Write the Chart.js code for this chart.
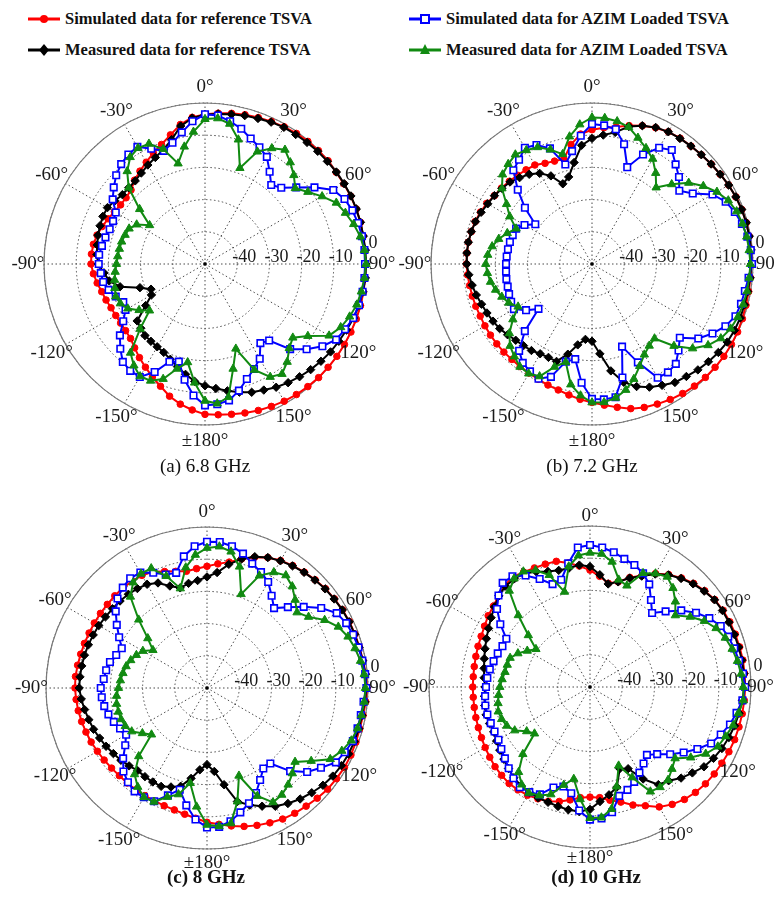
<!DOCTYPE html>
<html>
<head>
<meta charset="utf-8">
<script src="https://cdn.jsdelivr.net/npm/chart.js@4.4.1/dist/chart.umd.min.js"></script>
<style>
  body { margin: 0; width: 775px; height: 898px; background: #fff; overflow: hidden; position: relative;
         font-family: "Liberation Serif", "Times New Roman", serif; color: #111; }
  canvas { position: absolute; }
  .leg { position: absolute; height: 20px; line-height: 20px; font-weight: bold; font-size: 16.5px; white-space: nowrap; }
  .leg svg { position: absolute; left: 0; top: 0; }
  .leg span { position: absolute; left: 37px; top: 0; }
  .cap { position: absolute; width: 240px; margin-left: -120px; text-align: center; font-size: 19px; line-height: 22px; }
</style>
</head>
<body>

<div class="leg" style="left:28px;top:9px">
  <svg width="32" height="20"><line x1="0" y1="10" x2="32" y2="10" stroke="#ff0000" stroke-width="3"/><circle cx="16" cy="10" r="4" fill="#ff0000"/></svg>
  <span>Simulated data for reference TSVA</span>
</div>
<div class="leg" style="left:28px;top:40px">
  <svg width="32" height="20"><line x1="0" y1="10" x2="32" y2="10" stroke="#000" stroke-width="3"/><polygon points="16,4 21,10 16,16 11,10" fill="#000"/></svg>
  <span>Measured data for reference TSVA</span>
</div>
<div class="leg" style="left:409px;top:9px">
  <svg width="32" height="20"><line x1="0" y1="10" x2="32" y2="10" stroke="#0000ff" stroke-width="3"/><rect x="12" y="6" width="8" height="8" fill="#fff" stroke="#0000ff" stroke-width="2"/></svg>
  <span>Simulated data for AZIM Loaded TSVA</span>
</div>
<div class="leg" style="left:409px;top:40px">
  <svg width="32" height="20"><line x1="0" y1="10" x2="32" y2="10" stroke="#118a11" stroke-width="3"/><polygon points="16,4 21,14 11,14" fill="#118a11"/></svg>
  <span>Measured data for AZIM Loaded TSVA</span>
</div>

<canvas id="pa" width="400" height="400" style="left:5px;top:64px"></canvas>
<canvas id="pb" width="400" height="400" style="left:392px;top:64px"></canvas>
<canvas id="pc" width="400" height="400" style="left:7px;top:488px"></canvas>
<canvas id="pd" width="400" height="400" style="left:390px;top:487px"></canvas>

<div class="cap" style="left:205px;top:455px">(a) 6.8 GHz</div>
<div class="cap" style="left:592px;top:455px">(b) 7.2 GHz</div>
<div class="cap" style="left:206px;top:866px;font-weight:bold">(c) 8 GHz</div>
<div class="cap" style="left:596px;top:866px;font-weight:bold">(d) 10 GHz</div>

<script>
// angle of each sample, clockwise from the top
const angles = [0,5,10,15,20,25,30,35,40,45,50,55,60,65,70,75,80,85,90,95,100,105,110,115,120,125,130,135,140,145,150,155,160,165,170,175,180,
  -175,-170,-165,-160,-155,-150,-145,-140,-135,-130,-125,-120,-115,-110,-105,-100,-95,-90,-85,-80,-75,-70,-65,-60,-55,-50,-45,-40,-35,-30,-25,-20,-15,-10,-5];

const angleTickValues = [0, 30, 60, 90, 120, 150, 180, -150, -120, -90, -60, -30];
const angleTickText = ['0°', '30°', '60°', '90°', '120°', '150°', '±180°', '-150°', '-120°', '-90°', '-60°', '-30°'];
const ringValues = [-40, -30, -20, -10, 0];
const ringText = ['-40', '-30', '-20', '-10', '0'];

// (a) 6.8 GHz
const simRef68 = [-3.5,-3,-2.5,-2,-1.6,-1.2,-0.8,-0.5,-0.3,-0.2,-0.1,-0.3,-0.2,-0.1,0,0,-0.1,-0.2,-0.2,-0.1,0,0,0,0,0,0,-0.1,-0.1,-0.3,-0.5,-0.8,-1.2,-1.6,-2.1,-2.6,-3,-3.3,
  -4.5,-5.8,-7.5,-9.6,-11.3,-13,-14.5,-16,-17.3,-17.8,-18,-18,-17.8,-17.3,-16.8,-16,-15.2,-14.6,-14.6,-14.8,-15.3,-16,-16.8,-17.5,-18,-18,-17.5,-16,-14.8,-13.5,-12,-10.5,-8.5,-6,-4.3];
const meaRef68 = [-3.6,-3.2,-2.8,-2.3,-1.9,-1.4,-1,-0.9,-0.7,-0.5,-0.4,-0.2,-0.1,0,0,0,-0.1,0,0,0,-0.2,-0.5,-0.9,-1.5,-2,-2.4,-3,-3.6,-4.3,-5,-5.8,-6.8,-7.6,-8.8,-10,-11.2,-12.2,
  -13.4,-15.2,-17,-18.5,-19.7,-20.3,-20.7,-21,-21.8,-22.5,-27.5,-30.8,-31.5,-28.5,-22.7,-19.8,-18.5,-16.8,-16.3,-16,-15.6,-15.3,-15,-15,-15.8,-16.5,-16.5,-16.3,-15.5,-14.5,-13.5,-12.2,-10,-6.5,-4.5];
const simAzim68 = [-3.5,-3.7,-5,-6.5,-8.5,-10,-11.6,-15,-18,-16.5,-13,-8.5,-4,-2.2,-1.3,-0.8,-0.5,-0.3,-0.3,-0.3,-0.3,-0.5,-1,-2,-3,-5.5,-8.8,-12.6,-19,-20,-16,-14,-12,-9.3,-7,-6.3,-6.1,
  -9,-13.5,-18.6,-17.7,-13,-9.5,-9.5,-10.3,-12.8,-15.5,-19,-21.5,-22,-20.5,-19,-17.9,-17.5,-17,-17,-17.5,-18,-18.5,-18.5,-18,-15,-13,-11,-9.5,-8.5,-8,-10.5,-12.6,-11,-8.5,-5.5];
const meaAzim68 = [-5,-4.6,-5.8,-10,-18.3,-11.5,-8.5,-6.7,-8.8,-11,-13.4,-11,-8,-5,-3.6,-2.2,-1,-0.3,0,-0.3,-0.7,-1.2,-2.2,-3.5,-5.5,-11,-14.4,-13,-10.3,-8.3,-9.5,-13.7,-22,-16.3,-8,-6.5,-7.5,
  -13,-19,-16.3,-12,-10,-9.7,-11.5,-14,-21.5,-27.5,-25,-22.3,-21,-20.5,-21,-21.5,-22,-22.5,-22.8,-23,-23.2,-23.6,-24,-25.5,-29,-23.5,-16.5,-12.4,-9.5,-8.4,-8.8,-12,-17.7,-13,-8.8];

// (b) 7.2 GHz
const simRef72 = [-8.3,-7.5,-6.8,-5.5,-4.3,-3.3,-2.6,-2.3,-2.2,-2,-1.7,-1.4,-1,-0.7,-0.5,-0.4,-0.4,-0.4,-0.5,-0.6,-0.6,-0.5,-0.3,-0.1,0,0,-0.1,-0.2,-0.5,-0.9,-1.4,-2,-2.6,-3.5,-4.8,-6,-7,
  -7.8,-8.7,-9.5,-10,-10.5,-10.9,-11.1,-11.3,-11.3,-11.4,-11.5,-11.6,-11.7,-11.6,-11.5,-11.4,-11.2,-11,-11,-11,-11.2,-11.4,-11.8,-12.3,-13,-13.3,-13.7,-14,-14.3,-14.5,-15.5,-16,-16.2,-12.3,-9.5];
const meaRef72 = [-11,-9.8,-8.5,-5.8,-4.3,-3.2,-2.6,-2.4,-2.2,-2,-1.7,-1.4,-1,-0.7,-0.5,-0.4,-0.4,-0.4,-0.5,-0.7,-0.9,-1,-1,-1.2,-1.5,-2.1,-2.8,-3.5,-4.4,-5.1,-6.5,-7.8,-9.5,-12,-16.3,-22,-26,
  -26.5,-24.5,-21,-17.8,-18,-17.8,-17.2,-16.9,-16.5,-15.8,-15,-14.5,-14,-13.5,-12.8,-12.2,-11.6,-11.1,-11,-11,-11.2,-11.5,-12,-12.6,-13,-13.5,-14,-15,-16,-17.5,-19.8,-23.5,-22,-18,-13];
const simAzim72 = [-6.5,-6.8,-7.5,-11.5,-18,-12.5,-8.3,-6.8,-9.6,-11.8,-14.6,-11.8,-6.8,-4.2,-2.8,-1.8,-1,-0.5,-0.3,-1.2,-1.8,-2.1,-2.6,-4.3,-6.8,-9.7,-14.4,-12,-9.5,-8.9,-9.2,-16.3,-22.7,-13.5,-8,-7.8,-8.1,
  -13,-20,-18.6,-12.7,-10.7,-11.5,-12.5,-14.8,-20.5,-28.3,-25,-22,-22.3,-22.6,-22.9,-23,-23.2,-23.3,-23.4,-23.5,-23.6,-23.8,-24,-25.8,-28.5,-22.8,-17.4,-12,-10.5,-8.3,-9.2,-11.8,-18,-14.4,-10];
const meaAzim72 = [-4.5,-4.5,-5,-6,-8.3,-10.3,-12.3,-15.5,-19,-15,-10.8,-7.8,-5.2,-3.3,-2.2,-1.6,-1.2,-1,-0.8,-1,-1.1,-1.4,-1.8,-2.5,-3.8,-6,-9.2,-14,-19.8,-19,-17.5,-15,-12,-9.5,-7.8,-6.9,-7,
  -9,-12,-18.5,-16,-11.5,-10.7,-11,-12.5,-14,-16.5,-20,-23.5,-21.5,-20.2,-19,-18,-17.4,-17,-17.5,-18.5,-20,-22,-24,-20.5,-17.6,-13.5,-10.7,-9.5,-8.5,-9.2,-10,-12.2,-14.7,-9.8,-6.5];

// (c) 8 GHz
const simRef8 = [-12.2,-11.3,-10.3,-8.5,-6.8,-5.3,-4.3,-3.6,-3,-2.5,-2,-1.7,-1.4,-1.2,-1.1,-1,-0.8,-0.5,-0.3,-0.5,-0.8,-0.9,-0.8,-0.7,-0.7,-0.9,-1.1,-1.6,-2.1,-2.5,-3,-3.8,-4.6,-5.5,-6.5,-7.5,-8.3,
  -9.4,-10.2,-10.8,-11.1,-11.3,-11.4,-11.4,-11.5,-11.5,-11.3,-11,-10.7,-10.3,-10,-9.7,-9.4,-9.2,-9,-9,-9.2,-9.4,-9.5,-9.6,-9.6,-9.6,-9.6,-9.5,-9.4,-9.5,-9.6,-10.2,-11.5,-12.5,-13.2,-12.8];
const meaRef8 = [-15.5,-14,-11,-8.5,-6.6,-5.3,-4.4,-3.7,-3.1,-2.6,-2.1,-1.8,-1.5,-1.3,-1.2,-1.1,-0.9,-0.6,-0.5,-0.8,-1.1,-1.2,-1.3,-1.5,-1.8,-2.3,-3,-4,-5,-6.2,-7.6,-9.5,-11.3,-13.5,-19.5,-24,-26.2,
  -24.5,-21.5,-18.4,-17.3,-16.3,-16.3,-16.4,-16.5,-15.8,-15.1,-14.5,-13.8,-13.2,-12.5,-12,-11.4,-10.8,-10.3,-10.4,-10.5,-10.6,-10.8,-11,-11.2,-11.5,-11.7,-11.8,-12,-12.3,-12.8,-14,-16.3,-17.8,-17,-16.5];
const simAzim8 = [-4.6,-4.5,-5.3,-6.8,-8.9,-10.3,-12,-15,-17.6,-14.5,-10.8,-6.7,-3.5,-2.3,-1.7,-1.3,-1,-0.7,-0.5,-1.2,-1.5,-1.6,-1.8,-2.8,-3.8,-6.8,-9.4,-13.5,-19.4,-19.5,-17,-14,-11.9,-10,-8,-6.7,-6.7,
  -9,-13,-17.3,-14.5,-11.2,-10.8,-10.8,-11.8,-13.3,-16,-19,-21,-20.2,-19.2,-18.3,-17.6,-17.2,-17,-17.8,-18.2,-18.8,-20,-20.8,-18.5,-15.8,-13,-10.7,-9.3,-8.4,-8.6,-10.5,-12.5,-13,-8.5,-5.8];
const meaAzim8 = [-6.5,-5.9,-7,-11,-19,-11.5,-8.5,-7.3,-8.8,-11.3,-13.5,-11.5,-7.8,-5,-3.4,-2.4,-1.6,-1,-0.8,-1,-1.3,-1.6,-2.3,-3.8,-5.8,-10.5,-14.3,-12.5,-10.8,-9.5,-9,-13,-21,-13.5,-7.3,-6.9,-7.5,
  -13,-20,-15.8,-14,-11,-10.8,-12.5,-15,-20,-27.5,-25.5,-23,-22,-21.6,-21.5,-21.5,-21.8,-22.5,-23,-23.5,-24,-24.8,-25.8,-27,-29.5,-26,-20,-13,-10,-9,-9,-13,-18,-12,-8.5];

// (d) 10 GHz
const simRef10 = [-13.7,-15.5,-17.3,-16.2,-13.8,-11.9,-9.3,-7.4,-5.8,-4.5,-3.5,-2.7,-2.3,-2.1,-2,-1.9,-1.8,-1.8,-1.8,-1.9,-2,-2.1,-2.2,-2.4,-2.7,-2.9,-3.2,-3.7,-4.4,-5.5,-7,-9.3,-11,-13,-14.3,-15.5,-15.8,
  -15.5,-14.4,-13.2,-12.2,-11.7,-11.2,-11,-10.9,-11.2,-11.5,-12,-12.4,-12.8,-13.1,-13.3,-13.5,-13.6,-13.6,-13.6,-13.5,-13.3,-13,-12.7,-12.2,-11.4,-10.9,-9.8,-8.8,-8.2,-8.8,-9.2,-9.4,-9.6,-10.9,-12.3];
const meaRef10 = [-12.6,-15,-17.5,-16.2,-14,-12,-9.5,-7.5,-6,-4.7,-3.7,-2.8,-2.5,-2.4,-2.3,-2.2,-2.1,-2,-2,-2.5,-3,-3.5,-4.1,-4.8,-5.7,-6.8,-8.5,-10,-12,-13,-17,-22,-23,-17.8,-16,-14.3,-12,
  -11.2,-11.3,-11.6,-11.9,-12,-12.3,-12.6,-13.2,-14.2,-15.1,-15.8,-16.5,-17,-16.8,-16.6,-16.8,-17.1,-17.4,-17,-16.6,-16,-15.3,-14.5,-13.6,-12.5,-11.3,-10,-9.1,-9,-9.2,-10.5,-11.8,-12.5,-12.5,-12];
const simAzim10 = [-5.9,-6.5,-7.5,-8.8,-9.7,-11,-13.2,-17,-20,-16.8,-13,-9.8,-7.2,-5.2,-4.3,-3.6,-3,-2.3,-1.8,-2.5,-3.8,-5,-6.8,-8.5,-11.5,-14.5,-17.5,-20.5,-22.5,-21,-19.3,-17.5,-16,-15,-10.5,-9,-8.8,
  -11.5,-16.5,-18,-16.8,-13.2,-12.3,-12,-13,-14.3,-15.5,-16.4,-17.2,-17.3,-17.2,-17,-17,-17.3,-17.7,-18,-18.4,-19,-19.5,-20,-20,-16,-12.3,-9.8,-7.8,-8,-10,-13,-16,-15.5,-11,-6.5];
const meaAzim10 = [-8.3,-8.5,-10.5,-15.5,-16.5,-11,-9.3,-8.2,-9.9,-12.5,-15.4,-12,-9,-6.8,-5.3,-4.3,-3.5,-2.9,-2.4,-2.2,-3.2,-4,-5.2,-6.2,-8.5,-11.8,-15.5,-14,-12.3,-12,-12.5,-19,-24,-18,-11.5,-9.3,-9.3,
  -15,-21,-18.5,-14.5,-12.8,-12,-13,-15.5,-20.5,-27.5,-26,-23,-21.5,-20.8,-20.5,-21,-21.5,-22,-22.6,-23.2,-23.4,-23.6,-25.3,-27.5,-29.5,-25,-18.5,-11,-8.9,-8.6,-10,-13,-19.4,-12,-9];

const RED = '#ff0000', BLACK = '#000000', BLUE = '#0000ff', GREEN = '#118a11';
const FONT = '"Liberation Serif", "Times New Roman", serif';

// outer solid circle, centre dot, angle labels and dB labels
const polarText = {
  id: 'polarText',
  beforeDatasetsDraw(chart) {
    const r = chart.scales.r, ctx = chart.ctx;
    ctx.save();
    ctx.strokeStyle = '#7a7a7a';
    ctx.lineWidth = 1.2;
    ctx.beginPath();
    ctx.arc(r.xCenter, r.yCenter, r.getDistanceFromCenterForValue(0), 0, Math.PI * 2);
    ctx.stroke();
    ctx.fillStyle = '#000';
    ctx.beginPath();
    ctx.arc(r.xCenter, r.yCenter, 1.8, 0, Math.PI * 2);
    ctx.fill();
    ctx.restore();
  },
  afterDraw(chart, args, opts) {
    const r = chart.scales.r, ctx = chart.ctx;
    ctx.save();
    ctx.fillStyle = '#1a1a1a';
    ctx.textAlign = 'center';
    ctx.textBaseline = 'middle';
    ctx.font = '19px ' + FONT;
    const dist = r.getDistanceFromCenterForValue(0) * opts.labelScale;
    angleTickValues.forEach((a, k) => {
      const p = r.getPointPosition(angles.indexOf(a), dist);
      ctx.fillText(angleTickText[k], p.x, p.y);
    });
    ctx.font = '18px ' + FONT;
    const right = angles.indexOf(90);
    ringValues.forEach((v, k) => {
      const p = r.getPointPositionForValue(right, v);
      ctx.fillText(ringText[k], p.x + 7, p.y - (v === 0 ? 21 : 7));
    });
    ctx.restore();
  }
};

function makePanel(id, simRef, meaRef, simAzim, meaAzim, labelScale) {
  new Chart(document.getElementById(id), {
    type: 'radar',
    data: {
      labels: angles,
      datasets: [
        { label: 'Simulated data for reference TSVA', data: simRef, order: 4,
          borderColor: RED, pointBackgroundColor: RED, pointBorderColor: RED,
          pointStyle: 'circle', pointRadius: 3.3 },
        { label: 'Measured data for reference TSVA', data: meaRef, order: 3,
          borderColor: BLACK, pointBackgroundColor: BLACK, pointBorderColor: BLACK,
          pointStyle: 'rectRot', pointRadius: 4.2 },
        { label: 'Simulated data for AZIM Loaded TSVA', data: simAzim, order: 2,
          borderColor: BLUE, pointBackgroundColor: '#ffffff', pointBorderColor: BLUE,
          pointStyle: 'rect', pointRadius: 4.6, pointBorderWidth: 1.6 },
        { label: 'Measured data for AZIM Loaded TSVA', data: meaAzim, order: 1,
          borderColor: GREEN, pointBackgroundColor: GREEN, pointBorderColor: GREEN,
          pointStyle: 'triangle', pointRadius: 4.8 }
      ]
    },
    options: {
      responsive: false,
      animation: false,
      devicePixelRatio: 1,
      layout: { padding: 39 },
      elements: {
        line: { borderWidth: 2, tension: 0, fill: false },
        point: { hoverRadius: 0 }
      },
      plugins: {
        legend: { display: false },
        tooltip: { enabled: false },
        polarText: { labelScale: labelScale }
      },
      scales: {
        r: {
          min: -50,
          max: 0,
          ticks: { display: false, stepSize: 10 },
          pointLabels: { display: false },
          grid: { circular: true, color: '#4a4a4a', lineWidth: 1, borderDash: [1.5, 2.5] },
          border: { dash: [1.5, 2.5] },
          angleLines: {
            display: true,
            color: '#4a4a4a',
            lineWidth: c => (c.index % 6 === 0 ? 1 : 0),
            borderDash: [1.5, 2.5]
          }
        }
      }
    },
    plugins: [polarText]
  });
}

makePanel('pa', simRef68, meaRef68, simAzim68, meaAzim68, 1.1);
makePanel('pb', simRef72, meaRef72, simAzim72, meaAzim72, 1.1);
makePanel('pc', simRef8, meaRef8, simAzim8, meaAzim8, 1.09);
makePanel('pd', simRef10, meaRef10, simAzim10, meaAzim10, 1.06);
</script>
</body>
</html>
